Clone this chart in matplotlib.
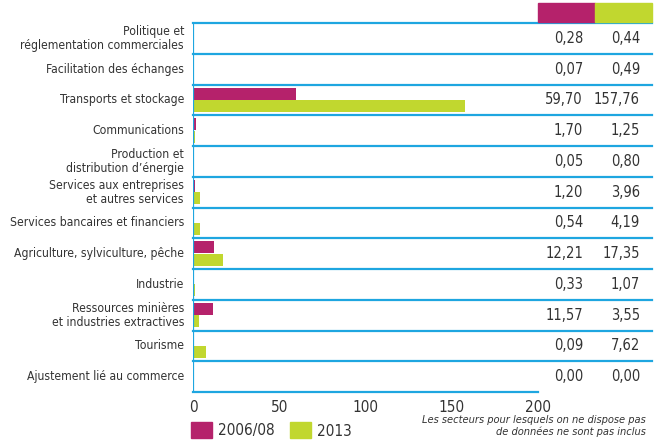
from matplotlib import pyplot as plt
from matplotlib.patches import Rectangle
import numpy as np

# Data
sectors = [
    "Politique et\nréglementation commerciales",
    "Facilitation des échanges",
    "Transports et stockage",
    "Communications",
    "Production et\ndistribution d\u2019énergie",
    "Services aux entreprises\net autres services",
    "Services bancaires et financiers",
    "Agriculture, sylviculture, pêche",
    "Industrie",
    "Ressources minières\net industries extractives",
    "Tourisme",
    "Ajustement lié au commerce",
]
v_2006 = [0.28, 0.07, 59.70, 1.70, 0.05, 1.20, 0.54, 12.21, 0.33, 11.57, 0.09, 0.00]
v_2013 = [0.44, 0.49, 157.76, 1.25, 0.80, 3.96, 4.19, 17.35, 1.07, 3.55, 7.62, 0.00]
series_labels = ["2006/08", "2013"]
x_ticks = [0, 50, 100, 150, 200]
note = "Les secteurs pour lesquels on ne dispose pas\nde données ne sont pas inclus"

magenta = "#b5226b"
green = "#c1d72f"
blue = "#1ea6e0"
txt = "#333333"

# condensed face to mimic the narrow original typeface
plt.rcParams["font.family"] = ["DejaVu Sans"]
plt.rcParams["font.stretch"] = "condensed"

W, H = 657, 443
fig = plt.figure(figsize=(W / 100, H / 100), dpi=100)

# axes spans x 193..538 px, y 23..392 px
x0, x1, y0, y1 = 193, 538, 23, 392
ax = fig.add_axes([x0 / W, 1 - y1 / H, (x1 - x0) / W, (y1 - y0) / H])
ax.set_xlim(0, 200)
ax.set_ylim(len(sectors), 0)
pxu = (x1 - x0) / 200

idx = np.arange(len(sectors))
ax.barh(idx + 0.3, v_2006, height=0.39, color=magenta, zorder=2)
ax.barh(idx + 0.695, v_2013, height=0.39, color=green, zorder=2)

# row separators extending under the table
ext = (652 - x0) / (x1 - x0)
for i in range(len(sectors)):
    ax.axhline(i, xmin=0, xmax=ext, color=blue, lw=1.6, clip_on=False, zorder=3)
ax.axhline(len(sectors), xmin=0, xmax=1, color=blue, lw=1.6, clip_on=False, zorder=3)

for s in ax.spines.values():
    s.set_visible(False)
ax.axvline(0, color=blue, lw=1.6, zorder=3)

ax.set_yticks([])
ax.set_xticks(x_ticks)
ax.set_xticklabels([str(t) for t in x_ticks], fontsize=11, color=txt)
ax.tick_params(axis="x", length=0, pad=6)

# row labels and table values
for i, name in enumerate(sectors):
    yc = i + 0.5
    ax.text(-9 / pxu, yc, name, ha="right", va="center", fontsize=8.7,
            color=txt, linespacing=1.12)
    ax.text((583 - x0) / pxu, yc, f"{v_2006[i]:.2f}".replace(".", ","),
            ha="right", va="center", fontsize=10.5, color=txt, clip_on=False)
    ax.text((640 - x0) / pxu, yc, f"{v_2013[i]:.2f}".replace(".", ","),
            ha="right", va="center", fontsize=10.5, color=txt, clip_on=False)

# table header boxes
fig.patches.append(Rectangle((538 / W, 1 - 22 / H), 57 / W, 19 / H,
                             transform=fig.transFigure, color=magenta))
fig.patches.append(Rectangle((595 / W, 1 - 22 / H), 57 / W, 19 / H,
                             transform=fig.transFigure, color=green))

# legend
for k, (lab, col) in enumerate(zip(series_labels, [magenta, green])):
    lx = [191, 290][k]
    fig.patches.append(Rectangle((lx / W, 1 - 438 / H), 21 / W, 16 / H,
                                 transform=fig.transFigure, color=col))
    fig.text((lx + 27) / W, 1 - 431 / H, lab, ha="left", va="center",
             fontsize=11, color=txt)

fig.text(646 / W, 1 - 426 / H, note, ha="right", va="center", fontsize=7.9,
         style="italic", color=txt, linespacing=1.1)

fig.savefig("out.png", dpi=100)
